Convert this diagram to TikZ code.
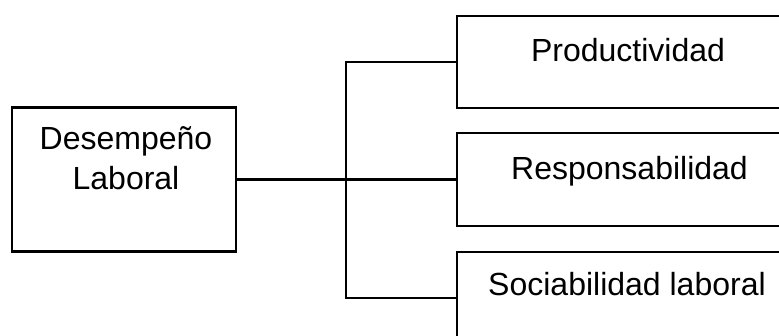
\documentclass[tikz,border=0pt]{standalone}
\usepackage{fontspec}
\setmainfont{Liberation Sans}
\begin{document}
\begin{tikzpicture}[x=1pt,y=-1pt,
  box/.style={draw=black,line width=2.3pt,rectangle,inner sep=0pt},
  lbl/.style={anchor=base,inner sep=0pt,font=\fontsize{32}{38}\selectfont},
  conn/.style={draw=black,line width=2.3pt}]
\useasboundingbox (0,0) rectangle (779,336);
\node[box,minimum width=224pt,minimum height=144pt] (L) at (124,179.5) {};
\node[box,minimum width=343pt,minimum height=92pt] (P) at (628.5,62) {};
\node[box,minimum width=343pt,minimum height=93pt] (R) at (628.5,179.5) {};
\node[box,minimum width=343pt,minimum height=92pt] (S) at (628.5,298) {};
\node[lbl] (t1) at (126,149.5) {Desempeño};
\node[lbl] (t2) at (126,189.5) {Laboral};
\node[lbl] (tp) at (628,62) {Productividad};
\node[lbl] (tr) at (629.5,180) {Responsabilidad};
\node[lbl] (ts) at (627,296) {Sociabilidad laboral};
\coordinate (J) at (346,179.5);
\draw[conn] (L.east) -- (R.west);
\draw[conn] (P.west) -| (J) |- (S.west);
\end{tikzpicture}
\end{document}
